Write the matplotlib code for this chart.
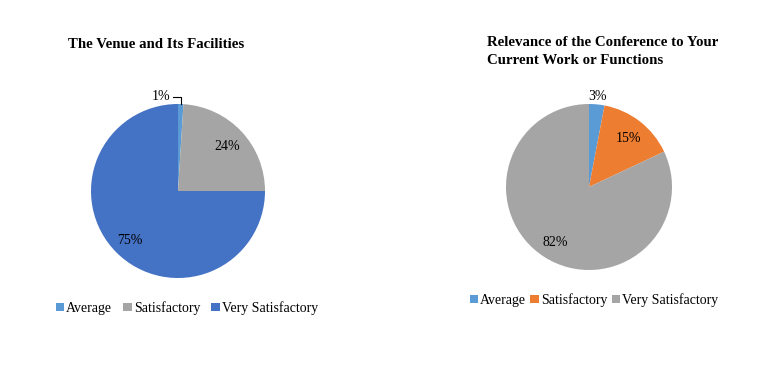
import matplotlib.pyplot as plt

plt.rcParams['font.family'] = ['Liberation Serif', 'DejaVu Serif']

# data
labels = ['Average', 'Satisfactory', 'Very Satisfactory']
venue = [1, 24, 75]
relevance = [3, 15, 82]
venue_colors = ['#5B9BD5', '#A5A5A5', '#4472C4']
relevance_colors = ['#5B9BD5', '#ED7D31', '#A5A5A5']

W, H = 774, 377
fig = plt.figure(figsize=(W / 100, H / 100), dpi=100)


def pie_axes(cx, cy, r):
    # pixel centre/radius -> figure axes
    ax = fig.add_axes([(cx - r) / W, 1 - (cy + r) / H, 2 * r / W, 2 * r / H])
    return ax


def fix_limits(ax):
    # pie() resets the limits to +-1.25, so put them back
    ax.set_xlim(-1, 1)
    ax.set_ylim(-1, 1)
    ax.set_aspect('equal')
    ax.axis('off')


# left pie
ax1 = pie_axes(178, 191, 87)
w1, t1, a1 = ax1.pie(venue, colors=venue_colors, startangle=90, counterclock=False,
                     autopct='%d%%', pctdistance=0.78, radius=1,
                     wedgeprops=dict(linewidth=0),
                     textprops=dict(fontsize=10, va='center_baseline'))
fix_limits(ax1)
a1[0].set_position((-0.2, 1.1))
ax1.plot([-0.06, 0.03, 0.03], [1.08, 1.08, 1.0], color='black', lw=0.8, clip_on=False)
fig.text(68 / W, 1 - 45 / H, 'The Venue and Its Facilities', fontsize=10.7,
         fontweight='bold', va='center', ha='left')
fig.legend(w1, labels, loc='center', bbox_to_anchor=(187 / W, 1 - 308 / H), ncol=3,
           frameon=False, handlelength=0.6, handleheight=0.6, handletextpad=0.15,
           columnspacing=0.8, fontsize=10)

# right pie
ax2 = pie_axes(589, 187, 83)
w2, t2, a2 = ax2.pie(relevance, colors=relevance_colors, startangle=90, counterclock=False,
                     autopct='%d%%', pctdistance=0.77, radius=1,
                     wedgeprops=dict(linewidth=0),
                     textprops=dict(fontsize=10, va='center_baseline'))
fix_limits(ax2)
a2[0].set_position((0.1, 1.11))
fig.text(487 / W, 1 - 51.5 / H, 'Relevance of the Conference to Your\nCurrent Work or Functions',
         fontsize=10.7, fontweight='bold', va='center', ha='left', linespacing=1.6)
fig.legend(w2, labels, loc='center', bbox_to_anchor=(594 / W, 1 - 300 / H), ncol=3,
           frameon=False, handlelength=0.6, handleheight=0.6, handletextpad=0.15,
           columnspacing=0.3, fontsize=10)

fig.savefig('out.png', dpi=100)
